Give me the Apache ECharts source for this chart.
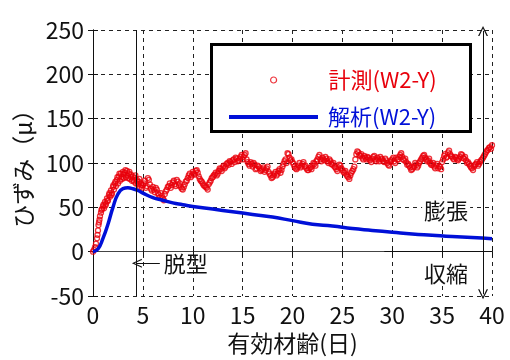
<!DOCTYPE html>
<html><head><meta charset="utf-8">
<script src="https://cdn.jsdelivr.net/npm/echarts@6/dist/echarts.min.js"></script>
<style>html,body{margin:0;padding:0;background:#fff}#c{width:510px;height:360px}</style>
</head><body><div id="c"></div>
<script>
var xTicks = [0, 5, 10, 15, 20, 25, 30, 35, 40];
var yTicks = [-50, 0, 50, 100, 150, 200, 250];
var seriesNames = ['計測(W2-Y)', '解析(W2-Y)'];
var demoldDay = 4.3;

var measured = [
[0.0,0],[0.1,2],[0.2,5],[0.3,9],[0.4,15],[0.5,24],[0.6,33],[0.7,40],[0.8,44],[0.9,48],
[1.0,51],[1.1,49],[1.2,56],[1.3,54],[1.4,60],[1.5,58],[1.6,64],[1.7,62],[1.8,69],[1.9,66],
[2.0,73],[2.1,70],[2.2,77],[2.3,74],[2.4,81],[2.5,77],[2.6,85],[2.7,80],[2.8,88],[2.9,82],
[3.0,90],[3.1,83],[3.2,89],[3.3,84],[3.4,91],[3.5,83],[3.6,88],[3.7,82],[3.8,87],[3.9,80],
[4.0,85],[4.1,79],[4.2,83],[4.3,77],[4.4,81],[4.5,76],[4.6,79],[4.7,73],[4.8,77],[4.9,72],
[5.0,75],[5.2,80],[5.4,74],[5.6,81],[5.8,71],[6.0,73],[6.2,67],[6.4,70],[6.6,64],[6.8,66],
[7.0,60],[7.2,65],[7.4,70],[7.6,74],[7.8,72],[8.0,78],[8.2,76],[8.4,81],[8.6,75],[8.8,73],
[9.0,70],[9.2,76],[9.4,80],[9.6,86],[9.8,84],[10.0,90],[10.2,87],[10.4,92],[10.6,85],[10.8,80],
[11.0,77],[11.2,74],[11.4,72],[11.6,76],[11.8,80],[12.0,84],[12.2,87],[12.4,86],[12.6,91],[12.8,93],
[13.0,95],[13.2,94],[13.4,99],[13.6,98],[13.8,101],[14.0,103],[14.2,101],[14.4,105],[14.6,103],[14.8,107],
[15.0,104],[15.2,109],[15.4,104],[15.6,99],[15.8,101],[16.0,96],[16.2,98],[16.4,94],[16.6,96],[16.8,91],
[17.0,93],[17.2,90],[17.4,94],[17.6,90],[17.8,86],[18.0,84],[18.2,88],[18.4,86],[18.6,91],[18.8,89],
[19.0,96],[19.2,102],[19.4,100],[19.6,110],[19.8,103],[20.0,101],[20.2,96],[20.4,93],[20.6,97],[20.8,95],
[21.0,99],[21.2,96],[21.4,94],[21.6,92],[21.8,95],[22.0,97],[22.2,99],[22.4,102],[22.6,107],[22.8,104],
[23.0,106],[23.2,103],[23.4,105],[23.6,100],[23.8,102],[24.0,98],[24.2,96],[24.4,93],[24.6,95],[24.8,97],
[25.0,92],[25.2,89],[25.4,87],[25.6,84],[25.8,86],[26.0,91],[26.2,96],[26.4,110],[26.6,112],[26.8,108],
[27.0,106],[27.2,108],[27.4,104],[27.6,106],[27.8,103],[28.0,105],[28.2,108],[28.4,102],[28.6,104],[28.8,107],
[29.0,104],[29.2,101],[29.4,103],[29.6,98],[29.8,101],[30.0,104],[30.2,102],[30.4,106],[30.6,104],[30.8,109],
[31.0,107],[31.2,103],[31.4,101],[31.6,99],[31.8,95],[32.0,93],[32.2,96],[32.4,98],[32.6,97],[32.8,102],
[33.0,106],[33.2,109],[33.4,104],[33.6,103],[33.8,100],[34.0,98],[34.2,96],[34.4,97],[34.6,94],[34.8,96],
[35.0,101],[35.2,108],[35.4,106],[35.6,112],[35.8,110],[36.0,107],[36.2,104],[36.4,106],[36.6,103],[36.8,107],
[37.0,109],[37.2,105],[37.4,103],[37.6,101],[37.8,97],[38.0,94],[38.2,96],[38.4,99],[38.6,97],[38.8,101],
[39.0,104],[39.2,108],[39.4,112],[39.6,115],[39.8,118],[40.0,120]
];

var measuredExtra = [
[0.45,19],[0.55,30],[0.65,36],[0.85,47],[1.05,53],[1.25,52],[1.45,57],[1.65,66],[1.85,64],
[2.05,75],[2.25,79],[2.45,84],[2.65,88],[2.85,84],[3.05,87],[3.25,92],[3.45,86],[3.65,90],[3.85,84],
[4.05,81],[4.25,86],[4.45,79],[4.65,82],[4.85,75],
[5.1,77],[5.3,72],[5.5,83],[5.7,76],[5.9,69],[6.1,70],[6.3,72],[6.5,66],[6.7,61],[6.9,63],
[7.1,58],[7.3,68],[7.5,73],[7.7,77],[7.9,75],[8.1,80],[8.3,74],[8.5,79],[8.7,77],[8.9,71],
[9.1,73],[9.3,79],[9.5,83],[9.7,88],[9.9,86],[10.1,88],[10.3,91],[10.5,89],[10.7,82],[10.9,79],
[11.1,75],[11.3,73],[11.5,70],[11.7,78],[11.9,83],[12.1,86],[12.3,89],[12.5,88],[12.7,94],[12.9,91],
[13.1,97],[13.3,96],[13.5,100],[13.7,102],[13.9,99],[14.1,104],[14.3,106],[14.5,102],[14.7,105],[14.9,109],
[15.1,107],[15.3,111],[15.5,101],[15.7,97],[15.9,99],[16.1,100],[16.3,93],[16.5,97],[16.7,94],[16.9,92],
[17.1,95],[17.3,92],[17.5,96],[17.7,88],[17.9,83],[18.1,86],[18.3,90],[18.5,88],[18.7,93],[18.9,92],
[19.1,99],[19.3,104],[19.5,111],[19.7,106],[19.9,104],[20.1,99],[20.3,94],[20.5,95],[20.7,100],[20.9,97],
[21.1,101],[21.3,97],[21.5,92],[21.7,94],[21.9,93],[22.1,100],[22.3,97],[22.5,104],[22.7,109],[22.9,102],
[23.1,104],[23.3,107],[23.5,102],[23.7,104],[23.9,99],[24.1,100],[24.3,95],[24.5,91],[24.7,98],[24.9,94],
[25.1,90],[25.3,91],[25.5,85],[25.7,82],[25.9,89],[26.1,93],[26.3,104],[26.5,113],[26.7,109],[26.9,110],
[27.1,104],[27.3,106],[27.5,107],[27.7,104],[27.9,101],[28.1,107],[28.3,104],[28.5,106],[28.7,102],[28.9,105],
[29.1,102],[29.3,105],[29.5,100],[29.7,97],[29.9,103],[30.1,106],[30.3,100],[30.5,104],[30.7,107],[30.9,111],
[31.1,104],[31.3,105],[31.5,98],[31.7,97],[31.9,92],[32.1,95],[32.3,100],[32.5,95],[32.7,100],[32.9,104],
[33.1,108],[33.3,106],[33.5,102],[33.7,105],[33.9,98],[34.1,100],[34.3,94],[34.5,99],[34.7,96],[34.9,93],
[35.1,104],[35.3,110],[35.5,107],[35.7,114],[35.9,108],[36.1,105],[36.3,107],[36.5,104],[36.7,105],[36.9,110],
[37.1,106],[37.3,107],[37.5,100],[37.7,99],[37.9,95],[38.1,92],[38.3,98],[38.5,101],[38.7,99],[38.9,103],
[39.1,106],[39.3,110],[39.5,114],[39.7,117],[39.9,116]
];

var analysis = [
[0,0],[0.5,3],[1,15],[1.5,31],[2,50],[2.5,65],[3,71],[3.5,72],[4,71],[4.5,69],[5,66],
[6,61],[7,58],[8,55],[9,53],[10,51],[12,48],[14,45],[16,42],[18,39],[20,35],[22,31],
[24,29],[26,26],[28,24],[30,22],[32,20],[34,18.5],[36,17],[38,16],[40,14.5]
];

var FONT = '"Noto Sans CJK JP", "Liberation Sans", sans-serif';
var RED = '#e8000b';
var BLUE = '#0010d8';
var chevron = 'path://M5,0 L10,10 L8.6,10 L5,2.6 L1.4,10 L0,10 Z';

var chart = echarts.init(document.getElementById('c'));
chart.setOption({
  animation: false,
  backgroundColor: '#fff',
  textStyle: { fontFamily: FONT },
  grid: { left: 93, right: 18, top: 30, bottom: 60 },
  xAxis: [{
    type: 'value', min: xTicks[0], max: xTicks[xTicks.length - 1], interval: 5,
    name: '有効材齢(日)', nameLocation: 'middle', nameGap: 36,
    nameTextStyle: { fontSize: 23, color: '#111', fontFamily: FONT },
    axisLine: { show: true, lineStyle: { color: '#111', width: 1 } },
    axisTick: { show: true, inside: true, length: 5, lineStyle: { color: '#111' } },
    axisLabel: { fontSize: 23, color: '#111', margin: 8, fontFamily: FONT },
    splitLine: { show: true, lineStyle: { color: '#222', type: [4, 4], width: 1 } }
  }, {
    type: 'value', position: 'top', min: xTicks[0], max: xTicks[xTicks.length - 1], interval: 5,
    axisLine: { show: true, lineStyle: { color: '#444', width: 1 } },
    axisTick: { show: true, inside: true, length: 5, lineStyle: { color: '#111' } },
    axisLabel: { show: false }, splitLine: { show: false }
  }],
  yAxis: [{
    type: 'value', min: yTicks[0], max: yTicks[yTicks.length - 1], interval: 50,
    name: 'ひずみ（μ）', nameLocation: 'middle', nameGap: 52, nameRotate: 90,
    nameTextStyle: { fontSize: 23, color: '#111', fontFamily: FONT },
    axisLine: { show: true, lineStyle: { color: '#111', width: 1 } },
    axisTick: { show: true, inside: true, length: 5, lineStyle: { color: '#111' } },
    axisLabel: { fontSize: 23, color: '#111', margin: 9, fontFamily: FONT },
    splitLine: { show: true, lineStyle: { color: '#222', type: [4, 4], width: 1 } }
  }, {
    type: 'value', position: 'right', min: yTicks[0], max: yTicks[yTicks.length - 1], interval: 50,
    axisLine: { show: true, lineStyle: { color: '#111', width: 1 } },
    axisTick: { show: true, inside: true, length: 5, lineStyle: { color: '#111' } },
    axisLabel: { show: false }, splitLine: { show: false }
  }],
  legend: [{
    data: [{ name: seriesNames[0], icon: 'circle', textStyle: { color: RED },
             itemStyle: { color: '#fff', borderColor: RED, borderWidth: 1.2 } }],
    left: 270, top: 69, padding: 0, itemWidth: 6, itemHeight: 6, z: 60,
    textStyle: { fontSize: 22, fontFamily: FONT, padding: [0, 0, 0, 47] }
  }, {
    data: [{ name: seriesNames[1], icon: 'rect', textStyle: { color: BLUE },
             itemStyle: { color: BLUE, borderWidth: 0 } }],
    left: 229, top: 106, padding: 0, itemWidth: 89, itemHeight: 4, z: 60,
    textStyle: { fontSize: 22, fontFamily: FONT, padding: [0, 0, 0, 5] }
  }],
  graphic: [{
    type: 'rect', left: 210, top: 43, z: 50,
    shape: { width: 259, height: 87 },
    style: { fill: '#fff', stroke: '#000', lineWidth: 3 }
  }],
  series: [{
    name: seriesNames[0], type: 'scatter', data: measured.concat(measuredExtra),
    symbol: 'circle', symbolSize: 5,
    itemStyle: { color: 'rgba(255,255,255,0)', borderColor: RED, borderWidth: 1.3 },
    z: 3
  }, {
    name: seriesNames[1], type: 'line', data: analysis, smooth: true,
    showSymbol: false, symbol: 'none',
    lineStyle: { color: BLUE, width: 3.5 }, itemStyle: { color: BLUE },
    z: 4,
    markLine: {
      silent: true, animation: false,
      data: [
        [{ coord: [demoldDay, -50], symbol: 'none' }, { coord: [demoldDay, 250], symbol: 'none' }],
        [{ coord: [29.2, 0], symbol: 'none' }, { coord: [40, 0], symbol: 'none' }],
        [{ coord: [39.1, 0], symbol: 'none' }, { coord: [39.1, 249], symbol: chevron, symbolSize: [10, 10] }],
        [{ coord: [39.1, 0], symbol: 'none' }, { coord: [39.1, -48], symbol: chevron, symbolSize: [10, 10] }],
        [{ coord: [6.7, -13], symbol: 'none',
           label: { show: true, position: 'start', formatter: '脱型', fontSize: 22, color: '#111', fontFamily: FONT, distance: 4 } },
         { coord: [4.4, -13], symbol: chevron, symbolSize: [9, 10] }]
      ],
      lineStyle: { color: '#111', width: 1, type: 'solid' },
      label: { show: false }
    },
    markPoint: {
      silent: true, symbol: 'rect', symbolSize: 1,
      itemStyle: { color: 'rgba(0,0,0,0)' },
      data: [
        { name: '膨張', coord: [35.4, 46.7] },
        { name: '収縮', coord: [35.4, -24.4] }
      ],
      label: { show: true, position: 'inside', formatter: '{b}', fontSize: 22, color: '#111',
               fontFamily: FONT, backgroundColor: '#fff', padding: [1, 2] }
    }
  }]
});
</script></body></html>
